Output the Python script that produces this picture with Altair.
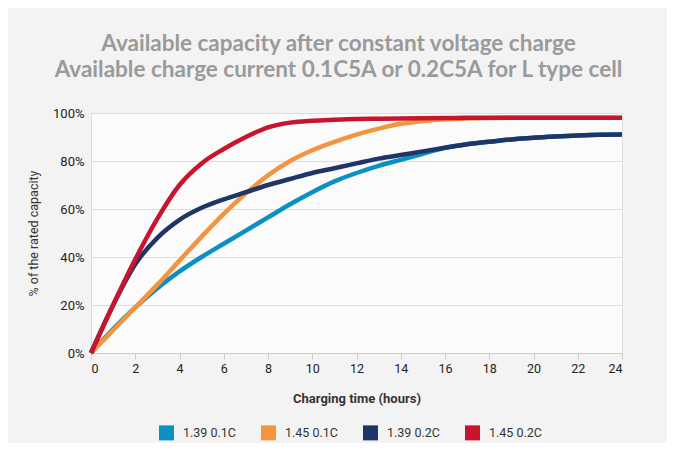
import altair as alt
import pandas as pd

hours = [0, 1, 2, 3, 4, 5, 6, 7, 8, 9, 10, 11, 12, 13, 14, 15, 16, 17, 18, 19, 20, 21, 22, 23, 24]
s139_01 = [0, 10, 19, 27, 34, 40, 45.5, 51, 56.5, 62, 67, 71.5, 75, 78, 80.5, 83, 85.5, 87, 88, 89, 89.7, 90.2, 90.6, 90.9, 91]
s145_01 = [0, 9.5, 19, 28.5, 38.5, 48.5, 58, 66.5, 74, 80, 84.5, 88, 91, 93.5, 95.5, 96.7, 97.4, 97.7, 97.9, 98, 98, 98, 98, 98, 98]
s139_02 = [0, 20, 37, 48, 55.5, 60.5, 64, 67, 70, 72.5, 75, 77, 79, 81, 82.5, 84, 85.5, 87, 88, 89, 89.7, 90.2, 90.6, 90.9, 91]
s145_02 = [0, 20, 39, 56, 70, 79, 85, 90, 94, 96, 96.8, 97.2, 97.5, 97.6, 97.7, 97.8, 97.9, 98, 98, 98, 98, 98, 98, 98, 98]

series_names = ["1.39 0.1C", "1.45 0.1C", "1.39 0.2C", "1.45 0.2C"]
colors = ["#0a90c3", "#f3953f", "#1f3467", "#c8152d"]

rows = []
for name, vals in zip(series_names, [s139_01, s145_01, s139_02, s145_02]):
    for h, v in zip(hours, vals):
        rows.append({"hours": h, "pct": v / 100.0, "series": name})
df = pd.DataFrame(rows)

font = "Roboto"

chart = alt.Chart(df).mark_line(strokeWidth=4.5, interpolate="monotone").encode(
    x=alt.X("hours:Q", scale=alt.Scale(domain=[0, 24], nice=False),
            axis=alt.Axis(values=list(range(0, 25, 2)), title="Charging time (hours)",
                          grid=False, domainColor="#cccccc", tickColor="#cccccc", tickSize=6,
                          labelFont=font, labelFontSize=12.5, labelColor="#222222", labelPadding=3,
                          titleFont=font, titleFontSize=13, titleFontWeight="bold", titleColor="#333333",
                          titlePadding=18)),
    y=alt.Y("pct:Q", scale=alt.Scale(domain=[0, 1], nice=False),
            axis=alt.Axis(values=[0, 0.2, 0.4, 0.6, 0.8, 1.0], format=".0%", title="% of the rated capacity",
                          grid=True, gridColor="#dddddd", domain=False, ticks=False,
                          labelFont=font, labelFontSize=13, labelColor="#222222", labelPadding=7,
                          titleFont=font, titleFontSize=12.5, titleFontWeight="normal", titleColor="#333333",
                          titlePadding=12)),
    color=alt.Color("series:N", scale=alt.Scale(domain=series_names, range=colors),
                    sort=series_names,
                    legend=alt.Legend(orient="none", legendX=68, legendY=312, direction="horizontal",
                                      columns=4, title=None, symbolType="square", symbolSize=56,
                                      symbolStrokeWidth=7.5,
                                      labelFont=font, labelFontSize=12.5, labelColor="#333333",
                                      columnPadding=13, labelOffset=9)),
).properties(
    width=531,
    height=240,
    padding={"left": 83, "top": 105, "right": 45, "bottom": 90},
    autosize=alt.AutoSizeParams(type="none"),
    background="#f3f3f3",
    title=alt.TitleParams(
        text=["Available capacity after constant voltage charge",
              "Available charge current 0.1C5A or 0.2C5A for L type cell"],
        font="Lato", fontSize=22.5, fontWeight="bold", color="#9a9a9a",
        anchor="middle", frame="group", offset=26, dx=-18, lineHeight=26,
    ),
).configure_view(
    stroke="#dddddd", fill="#fbfbfb"
)

chart.save("out.html", embed_options={"renderer": "svg", "actions": False})
